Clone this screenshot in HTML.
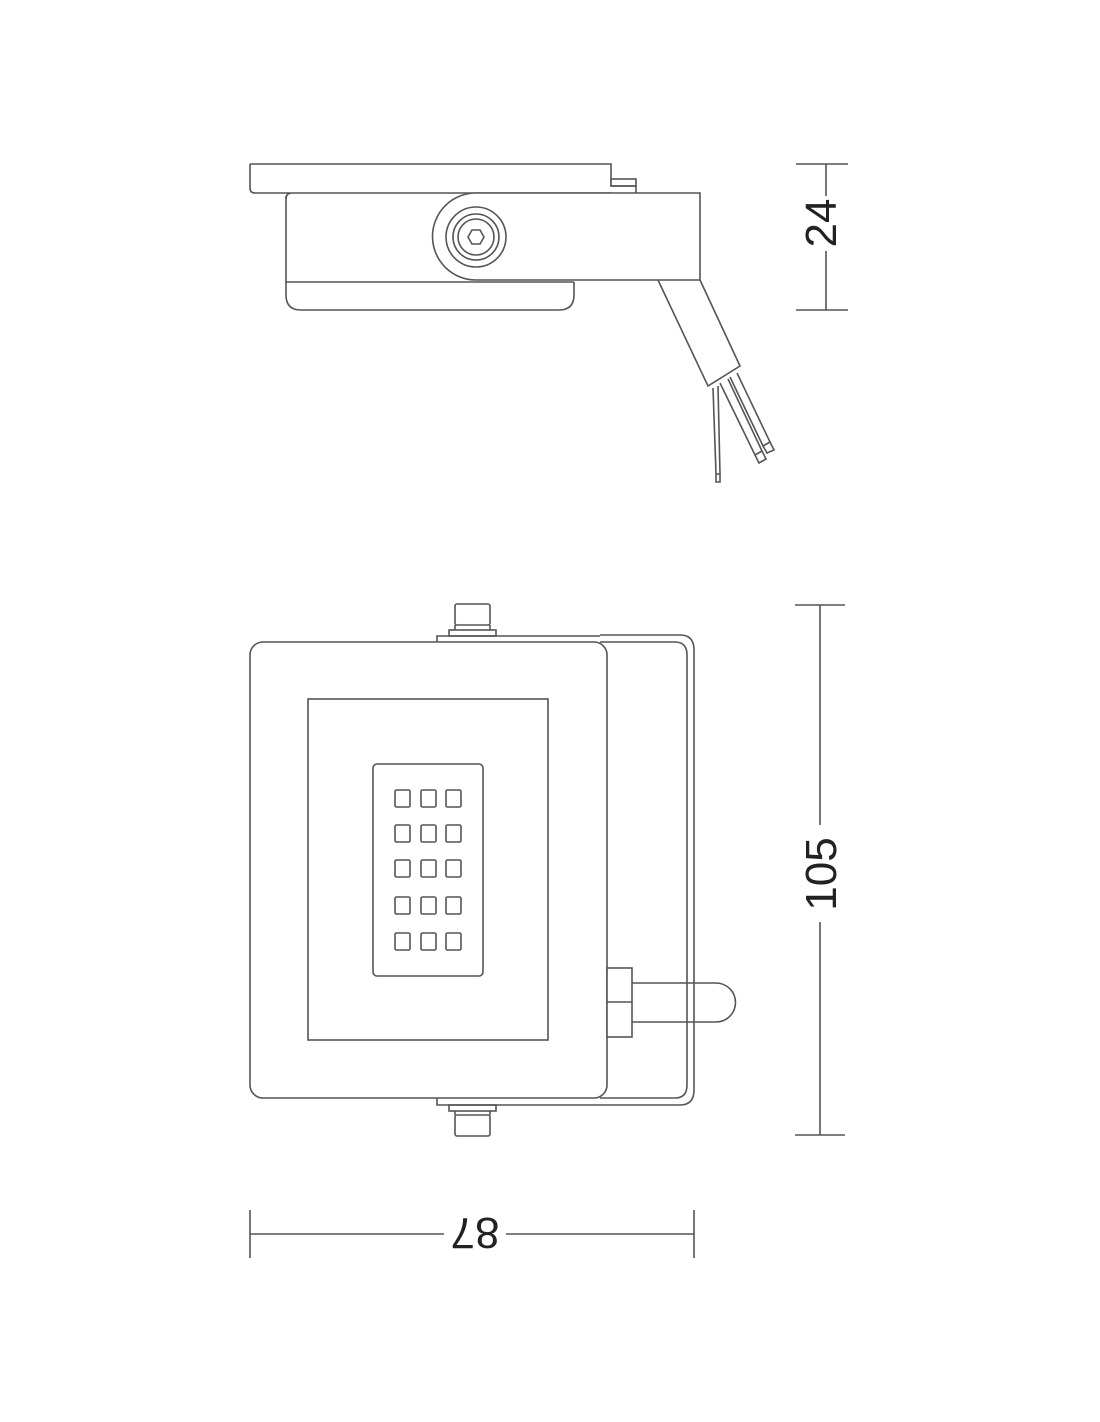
<!DOCTYPE html>
<html><head><meta charset="utf-8"><style>html,body{margin:0;padding:0;background:#fff}svg{display:block}</style></head>
<body>
<svg width="1100" height="1422" viewBox="0 0 1100 1422" xmlns="http://www.w3.org/2000/svg">
<g fill="none" stroke="#555" stroke-width="1.6">
<!-- TOP VIEW -->
<path d="M250,164 H611 V186 M611,193 H292 Q286,193 286,199 M250,164 V188 Q250,193 255,193 H290"/>
<rect x="611" y="179" width="25" height="7" fill="#fff"/>
<path d="M611,186 H636 V193"/>
<path d="M286,196 V282 H574"/>
<path d="M286,282 V295 Q286,310 301,310 H559 Q574,310 574,295 V282"/>
<path d="M476,193 H700 V280 H476 A43.5,43.5 0 0 1 476,193 Z" fill="#fff"/>
<circle cx="476" cy="237" r="30"/>
<circle cx="476" cy="237" r="23"/>
<circle cx="476" cy="237" r="18"/>
<polygon points="484,237 480,244 472,244 468,237 472,230 480,230"/>
<path d="M658,280 L708,386 L740,366 L700,280"/>
<path d="M713,388 L716,474 H720 L718,386"/>
<path d="M716,474 V482 H720 V474"/>
<path d="M720,383 L755,455 L762,451 L728,379"/>
<path d="M755,455 L759,463 L766,459 L762,451"/>
<path d="M730,377 L763,446 L770,442 L737,373"/>
<path d="M763,446 L767,453 L774,450 L770,442"/>
<!-- dim 24 -->
<path d="M826,164 V196 M826,251 V310 M796,164 H848 M796,310 H848"/>
<!-- FRONT VIEW -->
<path d="M600,635 H680 Q694,635 694,650 V1090 Q694,1105 680,1105 H600"/>
<path d="M600,642 H675 Q687,642 687,655 V1085 Q687,1098 675,1098 H600"/>
<rect x="250" y="642" width="357" height="456" rx="13" fill="#fff"/>
<rect x="308" y="699" width="240" height="341"/>
<rect x="373" y="764" width="110" height="212" rx="4"/>
<g>
<rect x="395" y="790" width="15" height="17" rx="1.5"/><rect x="421" y="790" width="15" height="17" rx="1.5"/><rect x="446" y="790" width="15" height="17" rx="1.5"/>
<rect x="395" y="825" width="15" height="17" rx="1.5"/><rect x="421" y="825" width="15" height="17" rx="1.5"/><rect x="446" y="825" width="15" height="17" rx="1.5"/>
<rect x="395" y="860" width="15" height="17" rx="1.5"/><rect x="421" y="860" width="15" height="17" rx="1.5"/><rect x="446" y="860" width="15" height="17" rx="1.5"/>
<rect x="395" y="897" width="15" height="17" rx="1.5"/><rect x="421" y="897" width="15" height="17" rx="1.5"/><rect x="446" y="897" width="15" height="17" rx="1.5"/>
<rect x="395" y="933" width="15" height="17" rx="1.5"/><rect x="421" y="933" width="15" height="17" rx="1.5"/><rect x="446" y="933" width="15" height="17" rx="1.5"/>
</g>
<!-- bolts -->
<path d="M437,642 V636 H600"/>
<rect x="449" y="630" width="47" height="6"/>
<rect x="455" y="604" width="35" height="21" rx="2"/>
<path d="M455,625 V630 M490,625 V630"/>
<path d="M437,1098 V1105 H600"/>
<rect x="449" y="1105" width="47" height="6"/>
<rect x="455" y="1115" width="35" height="21" rx="2"/>
<path d="M455,1111 V1115 M490,1111 V1115"/>
<!-- gland -->
<rect x="607" y="968" width="25" height="69" fill="#fff"/>
<path d="M607,1002 H632"/>
<path d="M632,983 H716 A19.5,19.5 0 0 1 716,1022 H632"/>
<!-- dim 105 -->
<path d="M820,605 V825 M820,922 V1135 M795,605 H845 M795,1135 H845"/>
<!-- dim 87 -->
<path d="M250,1234 H444 M506,1234 H694 M250,1210 V1258 M694,1210 V1258"/>
</g>
<g fill="#222" font-family="'Liberation Sans', sans-serif" font-size="44" text-anchor="middle">
<text transform="translate(836,223) rotate(-90)">24</text>
<text transform="translate(836,874) rotate(-90)">105</text>
<text transform="translate(475,1218) rotate(180)">87</text>
</g>
</svg>
</body></html>
